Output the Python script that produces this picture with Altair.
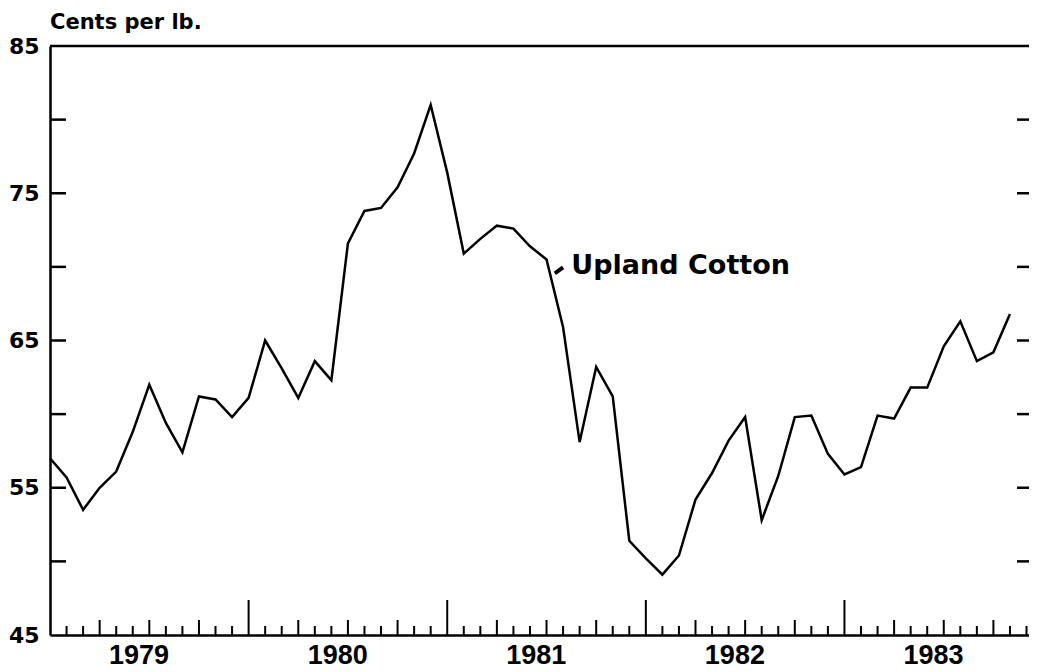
import altair as alt
import pandas as pd

# ---- data ----
months = list(range(59))  # Jan 1979 .. Nov 1983, monthly
price = [
    57.0, 55.7, 53.5, 55.0, 56.1, 58.8, 62.0, 59.4, 57.4, 61.2, 61.0, 59.8,
    61.1, 65.0, 63.1, 61.1, 63.6, 62.3, 71.6, 73.8, 74.0, 75.4, 77.7, 81.0,
    76.4, 70.9, 71.9, 72.8, 72.6, 71.4, 70.5, 65.9, 58.1, 63.2, 61.2, 51.4,
    50.2, 49.1, 50.4, 54.2, 56.0, 58.2, 59.8, 52.8, 55.8, 59.8, 59.9, 57.3,
    55.9, 56.4, 59.9, 59.7, 61.8, 61.8, 64.6, 66.3, 63.6, 64.2, 66.8,
]
year_names = ["1979", "1980", "1981", "1982", "1983"]
year_label_pos = [5.35, 17.35, 29.35, 41.35, 53.35]
y_label_values = [45, 55, 65, 75, 85]
side_tick_values = [50, 55, 60, 65, 70, 75, 80]
month_ticks = [m for m in range(1, 60) if m % 3 != 0]
quarter_ticks = [m for m in range(1, 60) if m % 3 == 0 and m % 12 != 0]
year_ticks = [12, 24, 36, 48]
series_label = ["Upland Cotton"]
series_label_x = [31.5]
series_label_y = [69.55]
leader_x = [30.5]
leader_x2 = [31.0]
leader_y = [69.56]
leader_y2 = [69.97]
unit_title = ["Cents per lb."]

W, H = 979, 589
x_scale = alt.Scale(domain=[0, 59.15], nice=False, zero=False)
y_scale = alt.Scale(domain=[45, 85], nice=False, zero=False)

label_expr = "[" + ",".join("'%s'" % y for y in year_names) + "][floor(datum.value / 12)]"

x_axis = alt.Axis(
    orient="bottom", values=year_label_pos, labelExpr=label_expr,
    ticks=False, tickSize=0, grid=False, domain=True,
    domainColor="black", domainWidth=2.5,
    labelFont="Liberation Sans", labelFontSize=27, labelFontWeight="bold",
    labelColor="black", labelPadding=7, title=None,
    labelFlush=False, labelOverlap=False)
y_axis = alt.Axis(
    orient="left", values=y_label_values, ticks=False, tickSize=0,
    grid=False, domain=True, domainColor="black", domainWidth=2.5,
    labelFont="DejaVu Sans", labelFontSize=22, labelFontWeight="bold",
    labelColor="black", labelPadding=11, title=None,
    labelFlush=False, labelOverlap=False, labelBaseline="middle")


def X(field):
    return alt.X(field, scale=x_scale, axis=x_axis)


def Y(field):
    return alt.Y(field, scale=y_scale, axis=y_axis)


df = pd.DataFrame({"month": months, "price": price})

line = alt.Chart(df).mark_line(color="black", strokeWidth=2.5).encode(
    x=X("month:Q"), y=Y("price:Q"),
)

top_border = alt.Chart(pd.DataFrame({"v": [85]})).mark_rule(
    color="black", strokeWidth=2.5).encode(
    y=Y("v:Q"), x=alt.value(0), x2=alt.value(W),
)

yr_ticks = alt.Chart(pd.DataFrame({"m": year_ticks})).mark_rule(
    color="black", strokeWidth=2).encode(
    x=X("m:Q"), y=alt.value(H), y2=alt.value(H - 35),
)

q_ticks = alt.Chart(pd.DataFrame({"m": quarter_ticks})).mark_rule(
    color="black", strokeWidth=2).encode(
    x=X("m:Q"), y=alt.value(H), y2=alt.value(H - 15),
)

m_ticks = alt.Chart(pd.DataFrame({"m": month_ticks})).mark_rule(
    color="black", strokeWidth=2).encode(
    x=X("m:Q"), y=alt.value(H), y2=alt.value(H - 9),
)

left_ticks = alt.Chart(pd.DataFrame({"v": side_tick_values})).mark_rule(
    color="black", strokeWidth=2.5).encode(
    y=Y("v:Q"), x=alt.value(0), x2=alt.value(16),
)

right_ticks = alt.Chart(pd.DataFrame({"v": side_tick_values})).mark_rule(
    color="black", strokeWidth=2.5).encode(
    y=Y("v:Q"), x=alt.value(W - 12), x2=alt.value(W),
)

label = alt.Chart(pd.DataFrame({
    "x": series_label_x, "y": series_label_y, "t": series_label})).mark_text(
    font="DejaVu Sans", fontSize=27, fontWeight="bold", color="black",
    align="left", baseline="alphabetic").encode(
    x=X("x:Q"), y=Y("y:Q"), text="t:N",
)

leader = alt.Chart(pd.DataFrame({
    "x": leader_x, "x2": leader_x2, "y": leader_y, "y2": leader_y2})).mark_rule(
    color="black", strokeWidth=4).encode(
    x=X("x:Q"), x2="x2:Q", y=Y("y:Q"), y2="y2:Q",
)

title_txt = alt.Chart(pd.DataFrame({"t": unit_title})).mark_text(
    font="DejaVu Sans", fontSize=21, fontWeight="bold", color="black",
    align="left", baseline="alphabetic").encode(
    x=alt.value(0), y=alt.value(-17), text="t:N",
)

chart = alt.layer(
    line, top_border, yr_ticks, q_ticks, m_ticks, left_ticks, right_ticks,
    label, leader, title_txt
).properties(
    width=W, height=H,
    padding={"left": 42, "top": 38, "right": 0, "bottom": 34},
    autosize="none",
    background="white",
).configure_view(stroke=None)

chart.save("out.html", embed_options={"renderer": "svg", "actions": False})
